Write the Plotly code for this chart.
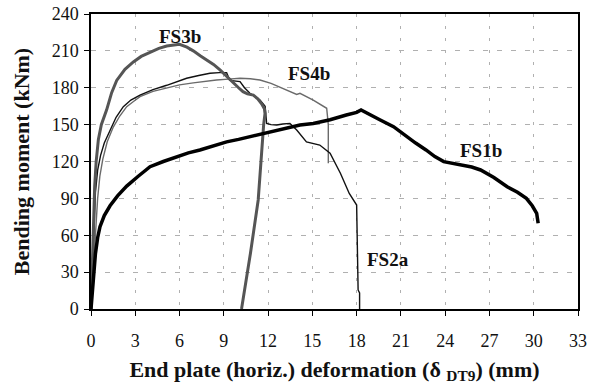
import plotly.graph_objects as go

# FS1b (thick black)
fs1b_x = [0, 0.15, 0.3, 0.45, 0.61, 0.9, 1.29, 1.8, 2.42, 3.2, 4.0, 4.9, 5.8, 6.6, 7.38, 8.3, 9.19, 10.0, 10.77, 11.7, 12.58, 13.4, 14.16, 15.06, 16.2, 17.3, 18.0, 18.3, 18.9, 19.6, 20.5, 21.4, 22.0, 22.7, 23.3, 23.9, 24.5, 25.2, 25.8, 26.4, 27.3, 28.2, 28.9, 29.5, 29.9, 30.2, 30.3]
fs1b_y = [0, 25, 45, 58, 67, 76, 84, 92, 100, 108, 115.8, 120, 124, 127, 129.4, 133, 136, 138, 140.2, 143, 145.6, 148, 149.7, 151, 154, 157.8, 160, 162, 158, 153.8, 148.3, 140.2, 135, 129.4, 124, 119.9, 118.5, 117.2, 115.5, 113.1, 107, 99.5, 95, 90, 84, 77.9, 69.7]

# FS2a (thin black)
fs2a_x = [0, 0.1, 0.2, 0.3, 0.45, 0.65, 0.9, 1.29, 1.7, 2.19, 2.7, 3.32, 4.2, 5.13, 5.8, 6.48, 7.3, 8.06, 8.7, 9.19, 9.4, 10.1, 10.4, 10.77, 11.1, 11.45, 11.8, 11.9, 12.2, 12.58, 13.0, 13.48, 13.94, 14.6, 15.5, 16.2, 16.9, 17.3, 17.5, 18.0, 18.05, 18.1, 18.2, 18.2]
fs2a_y = [0, 35, 70, 95, 113, 125, 135, 145, 156, 164.6, 170, 174, 178.5, 182, 185, 187.7, 190, 191.8, 192.3, 192.3, 186, 185, 180, 175.5, 173, 170, 165, 151, 150, 149.7, 150.5, 151, 145.6, 136, 133.4, 126.7, 110.4, 100, 94, 84.6, 50, 15.5, 13, 0]

# FS3b (thick grey)
fs3b_x = [0, 0.08, 0.15, 0.25, 0.35, 0.5, 0.7, 1.06, 1.4, 1.74, 2.3, 2.87, 3.4, 4.0, 4.6, 5.13, 5.6, 6.0, 6.5, 6.93, 7.4, 7.84, 8.3, 8.74, 9.2, 9.64, 10.0, 10.3, 10.6, 11.0, 11.3, 11.56, 11.75, 11.79, 11.7, 11.33, 10.8, 10.2]
fs3b_y = [0, 40, 75, 100, 120, 138, 150, 162, 176, 186, 195, 201, 205.5, 209, 212, 214, 215, 215.4, 213, 210, 206, 202.6, 199, 194.5, 189, 183.6, 180, 176.8, 175, 174, 171, 167, 163, 159, 150, 88.7, 45, 0]

# FS4b (thin grey)
fs4b_x = [0, 0.15, 0.3, 0.45, 0.6, 0.8, 1.1, 1.51, 1.95, 2.42, 2.9, 3.32, 4.2, 5.13, 6.0, 6.93, 7.7, 8.5, 9.3, 10.1, 10.8, 11.45, 12.2, 13.0, 13.94, 14.16, 15.06, 15.97, 16.08, 16.08]
fs4b_y = [0, 30, 65, 90, 108, 122, 136, 148, 157, 164.6, 169, 172.7, 177, 180, 182.3, 184, 185.2, 186.3, 187, 187.7, 187.3, 186.3, 183.5, 179.6, 174.5, 175.5, 170, 163.3, 150, 118.5]

x_ticks = [0, 3, 6, 9, 12, 15, 18, 21, 24, 27, 30, 33]
y_ticks = [0, 30, 60, 90, 120, 150, 180, 210, 240]

labels = ["FS1b", "FS2a", "FS3b", "FS4b"]
label_x = [26.4, 20.1, 6.0, 14.8]
label_y = [129, 40, 221.5, 192]

FONT = "Liberation Serif"

fig = go.Figure()
fig.add_trace(go.Scatter(x=fs4b_x, y=fs4b_y, mode="lines", line=dict(color="#6a6a6a", width=1.4), name="FS4b"))
fig.add_trace(go.Scatter(x=fs2a_x, y=fs2a_y, mode="lines", line=dict(color="#111111", width=1.4), name="FS2a"))
fig.add_trace(go.Scatter(x=fs3b_x, y=fs3b_y, mode="lines", line=dict(color="#555555", width=3), name="FS3b"))
fig.add_trace(go.Scatter(x=fs1b_x, y=fs1b_y, mode="lines", line=dict(color="#000000", width=3.5), name="FS1b"))

for t, lx, ly in zip(labels, label_x, label_y):
    fig.add_annotation(x=lx, y=ly, text="<b>%s</b>" % t, showarrow=False,
                       font=dict(family=FONT, size=19, color="#111111"))

fig.update_layout(
    width=589, height=388,
    margin=dict(l=91, r=11, t=14, b=79),
    paper_bgcolor="white", plot_bgcolor="white",
    showlegend=False,
    font=dict(family=FONT, size=18, color="#111111"),
    xaxis=dict(range=[0, 33], tickvals=x_ticks, ticktext=[str(v) for v in x_ticks],
               automargin=False,
               tickfont=dict(family=FONT, size=18), ticklabelstandoff=10,
               showgrid=True, gridcolor="#b0b0b0", griddash="3px,9px", gridwidth=1,
               zeroline=False, showline=True, linecolor="black", linewidth=1.5, mirror=True,
               ticks="outside", ticklen=5, tickcolor="black", tickwidth=1.2,
               title=dict(text="<b>End plate (horiz.) deformation (δ <sub>DT9</sub>) (mm)</b>",
                          font=dict(family=FONT, size=22), standoff=11)),
    yaxis=dict(range=[0, 240], tickvals=y_ticks, ticktext=[str(v) for v in y_ticks],
               automargin=False,
               tickfont=dict(family=FONT, size=18), ticklabelstandoff=2,
               showgrid=True, gridcolor="#b0b0b0", griddash="5px,9px", gridwidth=1,
               zeroline=False, showline=True, linecolor="black", linewidth=1.5, mirror=True,
               ticks="outside", ticklen=5, tickcolor="black", tickwidth=1.2,
               title=dict(text="<b>Bending moment (kNm)</b>",
                          font=dict(family=FONT, size=22), standoff=16)),
)

# remove the default page margin so the figure sits at the window's top-left corner
fig.write_html("out.html", config={"displayModeBar": False},
               post_script="document.body.style.margin='0';")
